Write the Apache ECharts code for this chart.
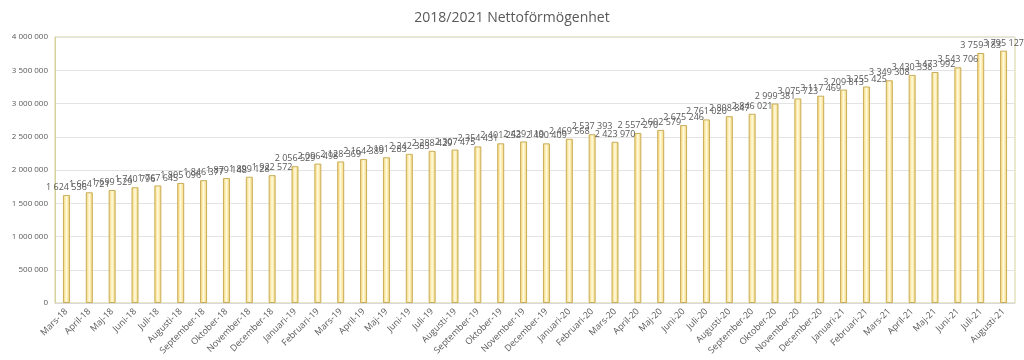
<!DOCTYPE html>
<html>
<head>
<meta charset="utf-8">
<script src="https://cdn.jsdelivr.net/npm/echarts@6/dist/echarts.min.js"></script>
<style>html,body{margin:0;padding:0;background:#fff}#c{width:1024px;height:360px}</style>
</head>
<body>
<div id="c"></div>
<script>
const categories = ["Mars-18","April-18","Maj-18","Juni-18","Juli-18","Augusti-18","September-18","Oktober-18","November-18","December-18","Januari-19","Februari-19","Mars-19","April-19","Maj-19","Juni-19","Juli-19","Augusti-19","September-19","Oktober-19","November-19","December-19","Januari-20","Februari-20","Mars-20","April-20","Maj-20","Juni-20","Juli-20","Augusti-20","September-20","Oktober-20","November-20","December-20","Januari-21","Februari-21","Mars-21","April-21","Maj-21","Juni-21","Juli-21","Augusti-21"];
const values = [1624536,1664721,1699529,1740796,1767645,1805096,1846377,1879148,1899128,1922572,2056529,2096498,2128369,2164389,2191283,2242383,2288429,2307475,2354431,2401253,2429119,2400409,2469568,2537393,2423970,2557270,2602579,2675246,2761020,2808847,2846021,2999381,3075723,3117469,3209813,3255425,3349308,3430338,3473992,3543706,3759183,3795127];
const yTicks = {min:0, max:4000000, interval:500000};

function fmt(v){ return String(v).replace(/\B(?=(\d{3})+(?!\d))/g,' '); }

const chart = echarts.init(document.getElementById('c'), null, {renderer:'canvas'});
chart.setOption({
  animation:false,
  backgroundColor:'#fff',
  title:{text:'2018/2021 Nettoförmögenhet', left:'center', top:6,
    textStyle:{fontFamily:'Open Sans', fontSize:14, fontWeight:'normal', color:'#595959'}},
  grid:{left:55, right:9, top:37, bottom:57, show:true, borderColor:'#d6d39a', borderWidth:1},
  xAxis:{type:'category', data:categories,
    axisLine:{show:true, lineStyle:{color:'#d9d9d9'}},
    axisTick:{show:false},
    axisLabel:{rotate:45, interval:0, fontSize:9, color:'#595959', fontFamily:'Open Sans', margin:7}},
  yAxis:{type:'value', min:yTicks.min, max:yTicks.max, interval:yTicks.interval,
    axisLine:{show:true, lineStyle:{color:'#d6d39a'}},
    axisTick:{show:false},
    splitLine:{lineStyle:{color:'#e3e3e3'}},
    axisLabel:{fontSize:8, color:'#595959', fontFamily:'Open Sans', formatter:fmt, margin:7}},
  series:[{type:'bar', data:values, barWidth:7,
    itemStyle:{
      color:new echarts.graphic.LinearGradient(0,0,1,0,[
        {offset:0,color:'#f2cf62'},{offset:0.5,color:'#fffbe0'},{offset:1,color:'#f2cf62'}]),
      borderColor:'#c9ad5a', borderWidth:1},
    label:{show:true, position:'top', distance:3, fontSize:9, color:'#595959', fontFamily:'Open Sans', formatter:p=>fmt(p.value)}
  }]
});
</script>
</body>
</html>
